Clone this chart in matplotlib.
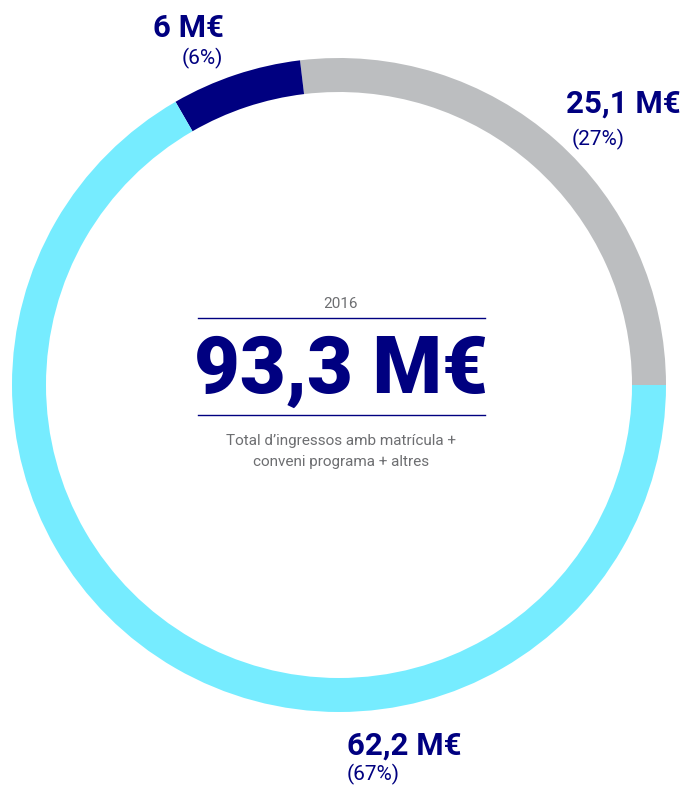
import matplotlib.pyplot as plt
from matplotlib import font_manager

# income split, 2016 (M€)
labels = ['25,1 M€', '6 M€', '62,2 M€']
values = [25.1, 6.0, 62.2]
shares = ['(27%)', '(6%)', '(67%)']
ring_colors = ['#bcbec0', '#000080', '#76ecff']
total_label = '93,3 M€'
year = '2016'
subtitle = ['Total d\u2019ingressos amb matrícula +', 'conveni programa + altres']

navy = '#000080'
grey_txt = '#6d6e71'

installed = {f.name for f in font_manager.fontManager.ttflist}
family = next(f for f in ['Roboto', 'Open Sans', 'DejaVu Sans'] if f in installed)
plt.rcParams['font.family'] = [family, 'DejaVu Sans']
if 'Liberation Sans Narrow' in installed:
    narrow, narrow_size = ['Liberation Sans Narrow', 'DejaVu Sans'], 13
else:
    narrow, narrow_size = [family, 'DejaVu Sans'], 11

fig = plt.figure(figsize=(6.85, 7.85), dpi=100)
ax = fig.add_axes([0, 0, 1, 1])

ax.pie(values, colors=ring_colors, startangle=0, counterclock=True,
       radius=327, center=(339, 400),
       wedgeprops=dict(width=34, linewidth=0))

ax.set_xlim(0, 685)
ax.set_ylim(0, 785)
ax.set_aspect('equal')
ax.axis('off')

# value labels round the ring: (x of value, x of share, baseline y, share y)
label_pos = [(566, 572, 672, 646), (153, 182, 748, 727), (347, 347, 30, 11)]
for lab, sh, (xv, xs, yb, ys) in zip(labels, shares, label_pos):
    ax.text(xv, yb, lab, color=navy, fontsize=22.5, fontweight='bold',
            ha='left', va='baseline')
    ax.text(xs, ys, sh, color=navy, fontsize=15, ha='left', va='center')

# centre block
ax.text(341, 477, year, color=grey_txt, fontsize=narrow_size, family=narrow,
        ha='center', va='baseline')
ax.plot([198, 485], [467, 467], color=navy, lw=1)
ax.text(341, 392, total_label, color=navy, fontsize=57, fontweight='heavy',
        ha='center', va='baseline')
ax.plot([198, 485], [370, 370], color=navy, lw=1)
for i, line in enumerate(subtitle):
    ax.text(341, 340 - 21 * i, line, color=grey_txt, fontsize=narrow_size,
            family=narrow, ha='center', va='baseline')

fig.savefig('out.png', dpi=100)
